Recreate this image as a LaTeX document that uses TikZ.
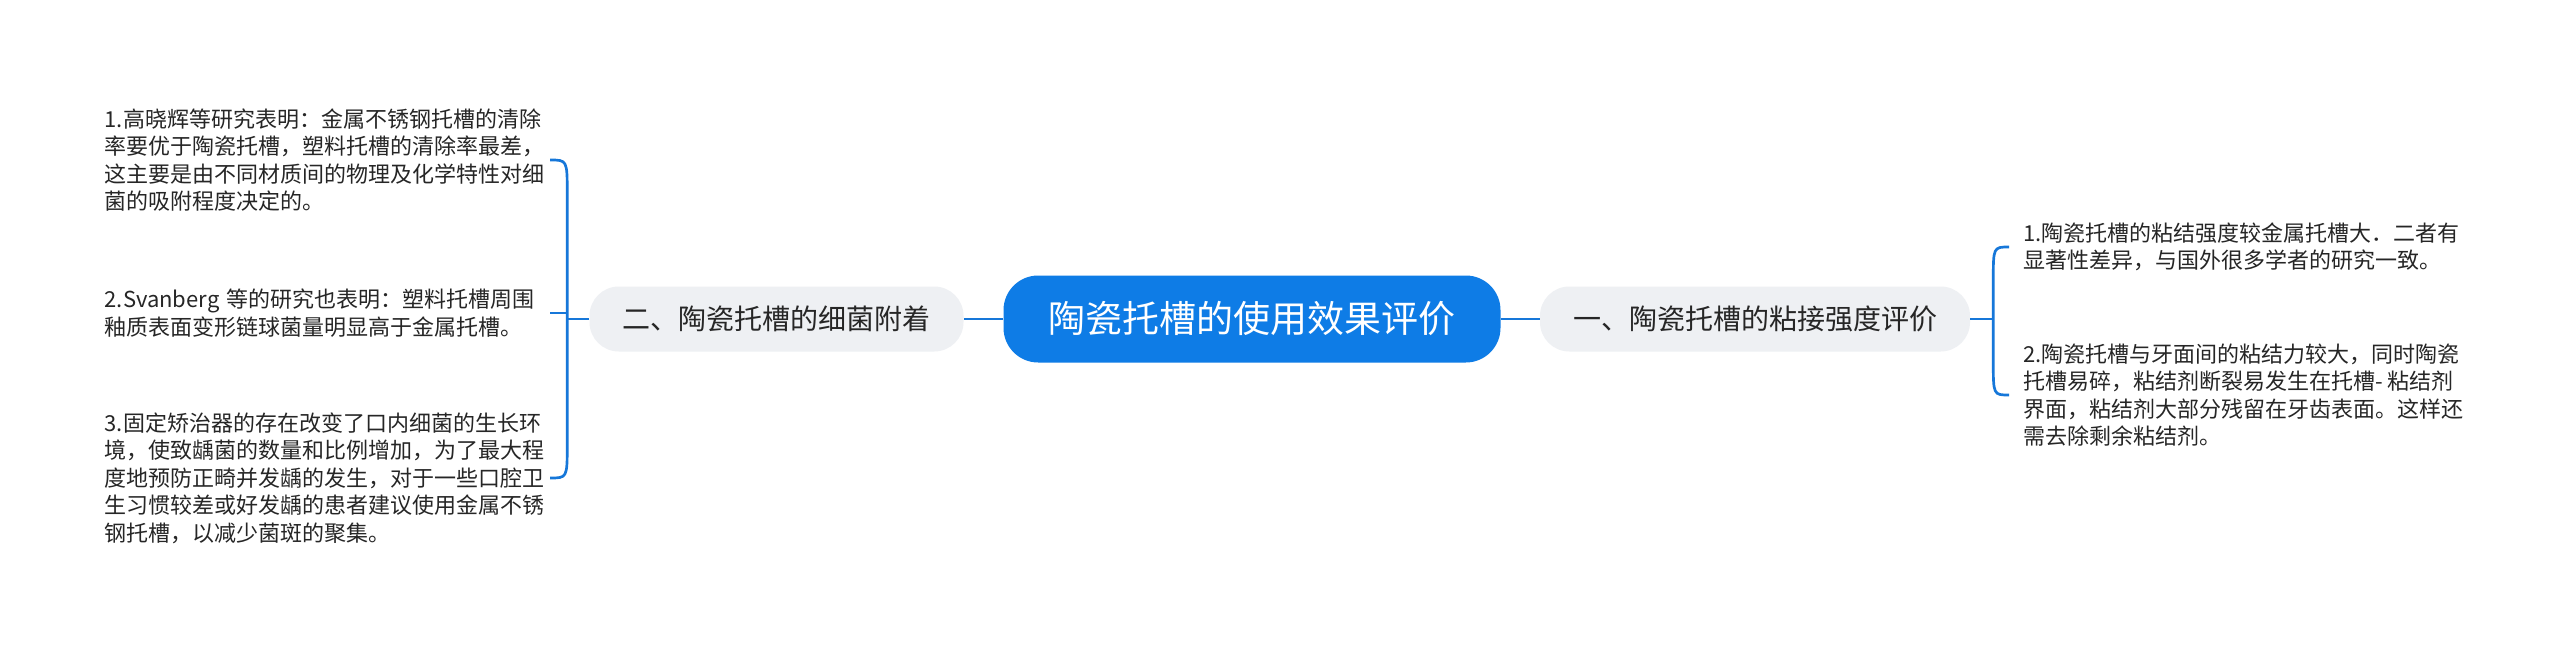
\documentclass[tikz,border=0pt]{standalone}
\usepackage{fontspec}
\setmainfont{Noto Sans CJK SC}
\usetikzlibrary{calc}

\definecolor{rootblue}{RGB}{14,124,230}
\definecolor{linkblue}{RGB}{22,119,217}
\definecolor{subgray}{RGB}{238,240,243}
\definecolor{txtgray}{RGB}{38,38,38}

\tikzset{
  link/.style={draw=linkblue, line width=2pt},
  rootbox/.style={fill=rootblue, text=white, rounded corners=26pt, minimum width=372.75pt,
    minimum height=65.25pt, inner sep=0pt, font=\fontsize{27.75pt}{33pt}\selectfont},
  subbox/.style={fill=subgray, text=txtgray, rounded corners=22pt, minimum height=48.75pt,
    inner xsep=24.75pt, inner ysep=0pt, font=\fontsize{21pt}{25pt}\selectfont},
  leaf/.style={text=txtgray, align=left, inner ysep=0pt, font=\fontsize{16.5pt}{20.6pt}\selectfont},
  leafl/.style={leaf, anchor=east, inner xsep=0pt, text width=333.75pt},
  leafr/.style={leaf, anchor=west, inner xsep=10.5pt}
}

\begin{document}
\begin{tikzpicture}[x=0.75pt,y=0.75pt,yscale=-1,xscale=1]
\fill[white] (0,0) rectangle (2560,653);
\useasboundingbox (0,0) rectangle (2560,653);

% Text Node
\node[rootbox] (root) at (1252,319) {陶瓷托槽的使用效果评价};
% Text Node
\node[subbox] (b2) at (776.5,319) {二、陶瓷托槽的细菌附着};
% Text Node
\node[subbox] (b1) at (1755,319) {一、陶瓷托槽的粘接强度评价};

% Text Node
\node[leafl] (l1) at (550,160) {1.高晓辉等研究表明：金属不锈钢托槽的清除\\率要优于陶瓷托槽，塑料托槽的清除率最差，\\这主要是由不同材质间的物理及化学特性对细\\菌的吸附程度决定的。};
% Text Node
\node[leafl] (l2) at (550,313) {2.Svanberg 等的研究也表明：塑料托槽周围\\釉质表面变形链球菌量明显高于金属托槽。};
% Text Node
\node[leafl] (l3) at (550,478) {3.固定矫治器的存在改变了口内细菌的生长环\\境，使致龋菌的数量和比例增加，为了最大程\\度地预防正畸并发龋的发生，对于一些口腔卫\\生习惯较差或好发龋的患者建议使用金属不锈\\钢托槽，以减少菌斑的聚集。};
% Text Node
\node[leafr] (r1) at (2009,247) {1.陶瓷托槽的粘结强度较金属托槽大．二者有\\显著性差异，与国外很多学者的研究一致。};
% Text Node
\node[leafr] (r2) at (2009,395) {2.陶瓷托槽与牙面间的粘结力较大，同时陶瓷\\托槽易碎，粘结剂断裂易发生在托槽- 粘结剂\\界面，粘结剂大部分残留在牙齿表面。这样还\\需去除剩余粘结剂。};

%Straight Lines
\draw[link] (root.west) -- (b2.east);
\draw[link] (root.east) -- (b1.west);
\draw[link] (b2.west) -- ++(-22,0) coordinate (sl);
\draw[link] (b1.east) -- ++(23,0) coordinate (sr);
\draw[link] (l2.east) -- (sl|-l2.east);

%Curve Lines
\draw[link] (l1.east) .. controls (sl|-l1.east) .. ($(sl|-l1.east)+(0,34)$)
  -- ($(sl|-l3.east)+(0,-34)$) .. controls (sl|-l3.east) .. (l3.east);
\draw[link] (r1.west) .. controls (sr|-r1.west) .. ($(sr|-r1.west)+(0,34)$)
  -- ($(sr|-r2.west)+(0,-34)$) .. controls (sr|-r2.west) .. (r2.west);

\end{tikzpicture}
\end{document}
